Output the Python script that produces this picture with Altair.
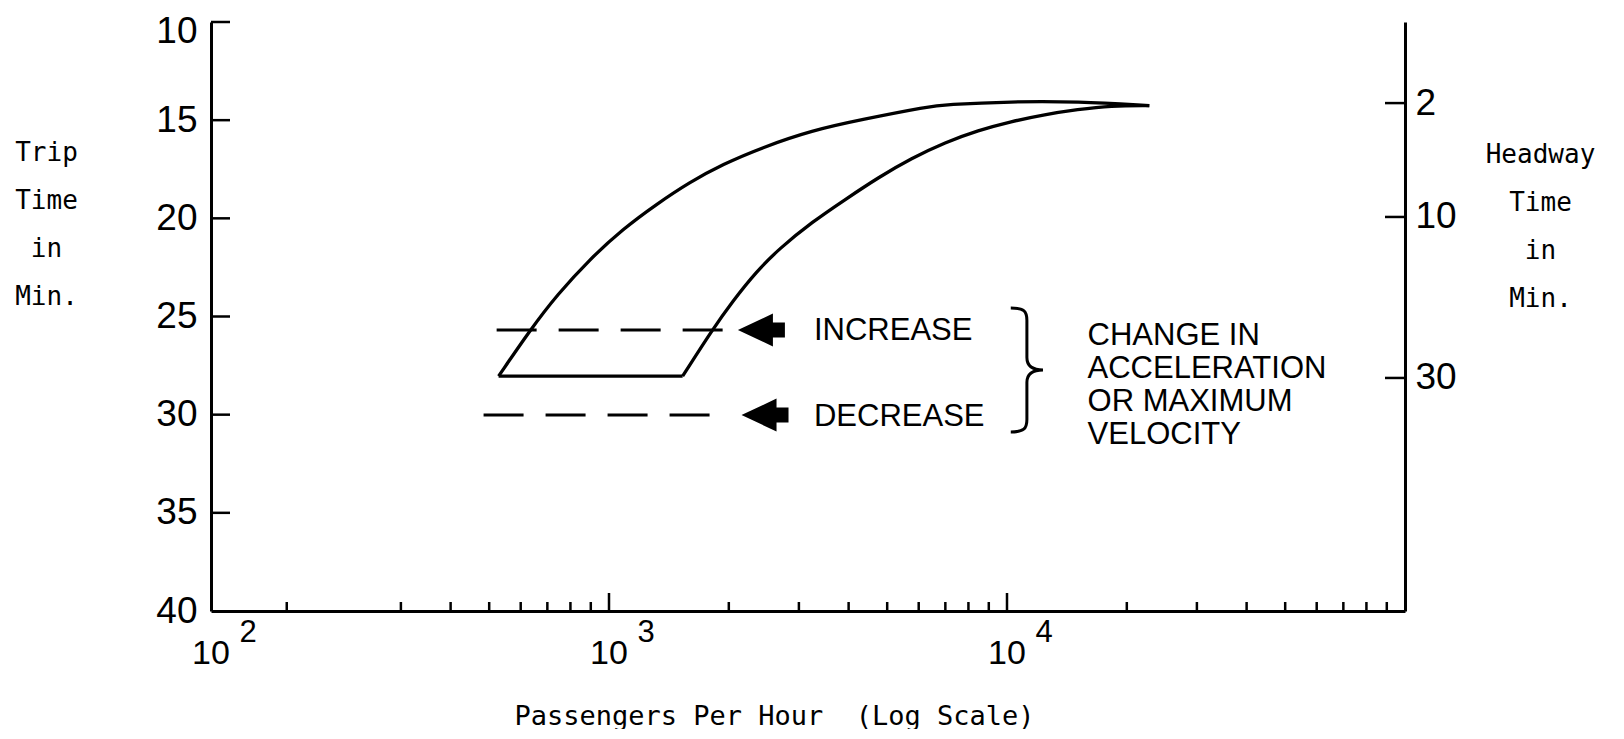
import altair as alt
import pandas as pd

# ---------------- data ----------------
# Upper (left) boundary curve: passengers/hour vs trip time (min)
upper_x = [528, 635, 741, 897, 1084, 1318, 1594, 1928, 2427, 3236, 4315, 6346, 6998, 10233, 15045, 22777]
upper_y = [28.04, 25.66, 23.89, 22.06, 20.54, 19.27, 18.16, 17.25, 16.39, 15.52, 14.97, 14.31, 14.21, 14.05, 14.05, 14.26]
# Lower (right) boundary curve
lower_x = [1531, 1820, 2042, 2344, 2676, 3236, 3936, 4759, 5754, 6998, 8463, 10233, 12445, 15045, 18197, 22777]
lower_y = [28.04, 25.66, 24.24, 22.72, 21.55, 20.19, 19.02, 17.91, 16.94, 16.13, 15.52, 15.07, 14.71, 14.46, 14.26, 14.26]
# Base line joining the two curves
base_x = [528, 1531]
base_y = [28.04, 28.04]

# Dashed lines (increase / decrease)
dash_name = ["increase", "decrease"]
dash_y = [25.69, 30.02]
dash_x0 = [522, 484]
dash_x1 = [1950, 1841]

# Arrows
arrow_x = [2415, 2466]
arrow_y = [25.69, 30.02]

# Brace
brace_x = [11220]
brace_y = [27.72]

# Annotation texts
ann_text = ["INCREASE", "DECREASE", "CHANGE IN", "ACCELERATION", "OR MAXIMUM", "VELOCITY"]
ann_x = [3273, 3273, 15936, 15936, 15936, 15936]
ann_y = [25.73, 30.11, 26.00, 27.66, 29.34, 31.02]

# Axes
trip_labels = [10, 15, 20, 25, 30, 35, 40]
trip_ticks = [10, 15, 20, 25, 30, 35]
headway_labels = ["2", "10", "30"]
headway_pos = [14.13, 19.93, 28.13]   # position on trip-time scale
x_major = [1000, 10000]
x_minor = [155, 300, 400, 500, 600, 700, 800, 900,
           2000, 3000, 4000, 5000, 6000, 7000, 8000, 9000,
           20000, 30000, 40000, 50000, 60000, 70000, 80000, 90000]
x_label_at = [100, 1000, 10000]
x_label_base = ["10", "10", "10"]
x_label_exp = ["2", "3", "4"]

# ---------------- layout / style ----------------
W, H = 1194, 589
X_DOMAIN = [100, 100000]
Y_DOMAIN = [10, 40]
PX_PER_DECADE = W / 3.0
PX_PER_MIN = H / 30.0
LET = "Liberation Sans"
MONO = "DejaVu Sans Mono"

xscale = alt.Scale(type="log", domain=X_DOMAIN, nice=False)
yscale = alt.Scale(domain=Y_DOMAIN, reverse=True, nice=False, zero=False)

curve_df = pd.concat([
    pd.DataFrame({"x": upper_x, "y": upper_y, "s": "upper"}),
    pd.DataFrame({"x": lower_x, "y": lower_y, "s": "lower"}),
    pd.DataFrame({"x": base_x, "y": base_y, "s": "base"}),
])

curves = alt.Chart(curve_df).mark_line(
    interpolate="basis", stroke="black", strokeWidth=3.3
).encode(
    x=alt.X("x:Q", scale=xscale, axis=alt.Axis(
        domain=True, domainColor="black", domainWidth=3, ticks=False, labels=False, grid=False,
        title="Passengers Per Hour\u00a0 (Log Scale)", titleFont=MONO, titleFontSize=27,
        titleFontWeight="normal", titleColor="black", titleX=563, titleY=113,
        titleAlign="center", titleBaseline="alphabetic")),
    y=alt.Y("y:Q", scale=yscale, axis=alt.Axis(
        orient="left", values=trip_labels, domain=True, domainColor="black", domainWidth=3,
        ticks=False, tickSize=0, grid=False, labelFont=LET, labelFontSize=37, labelColor="black",
        labelPadding=14, labelOverlap=False, labelFlush=False,
        labelOffset={"condition": {"test": f"datum.value == {Y_DOMAIN[0]}", "value": 9}, "value": 0},
        title=["Trip", "Time", "in", "Min."], titleFont=MONO, titleFontSize=26,
        titleFontWeight="normal", titleColor="black", titleAngle=0, titleX=-165, titleY=138,
        titleAlign="center", titleBaseline="alphabetic", titleLineHeight=48)),
    detail="s:N",
)

dash_df = pd.DataFrame({"n": dash_name, "y": dash_y, "x0": dash_x0, "x1": dash_x1})
dashes = alt.Chart(dash_df).mark_rule(stroke="black", strokeWidth=3, strokeDash=[40, 22]).encode(
    x=alt.X("x0:Q", scale=xscale, axis=None), x2="x1:Q",
    y=alt.Y("y:Q", scale=yscale, axis=None),
)

ARROW = "M-1,0 L0.49,-0.7 L0.49,-0.32 L1,-0.32 L1,0.32 L0.49,0.32 L0.49,0.7 Z"
arrows = alt.Chart(pd.DataFrame({"x": arrow_x, "y": arrow_y})).mark_point(
    shape=ARROW, filled=True, color="black", opacity=1, size=2209, strokeWidth=0
).encode(
    x=alt.X("x:Q", scale=xscale, axis=None), y=alt.Y("y:Q", scale=yscale, axis=None)
)

BRACE = ("M-0.26,-1 C-0.05,-1 0,-0.95 0,-0.8 L0,-0.2 C0,-0.05 0.1,0 0.26,0 "
         "C0.1,0 0,0.05 0,0.2 L0,0.8 C0,0.95 -0.05,1 -0.26,1")
brace = alt.Chart(pd.DataFrame({"x": brace_x, "y": brace_y})).mark_point(
    shape=BRACE, filled=False, stroke="black", strokeWidth=3, opacity=1, size=124 * 124
).encode(
    x=alt.X("x:Q", scale=xscale, axis=None), y=alt.Y("y:Q", scale=yscale, axis=None)
)

ann = alt.Chart(pd.DataFrame({"t": ann_text, "x": ann_x, "y": ann_y})).mark_text(
    font=LET, fontSize=31, align="left", baseline="middle", color="black"
).encode(
    x=alt.X("x:Q", scale=xscale, axis=None), y=alt.Y("y:Q", scale=yscale, axis=None), text="t:N"
)

# Inward tick marks
maj_len = 18 / PX_PER_MIN
min_len = 9 / PX_PER_MIN
xmaj = alt.Chart(pd.DataFrame({"v": x_major})).mark_rule(stroke="black", strokeWidth=2.5).encode(
    x=alt.X("v:Q", scale=xscale, axis=None),
    y=alt.Y(datum=Y_DOMAIN[1], type="quantitative", scale=yscale, axis=None),
    y2=alt.Y2(datum=Y_DOMAIN[1] - maj_len),
)
xmin = alt.Chart(pd.DataFrame({"v": x_minor})).mark_rule(stroke="black", strokeWidth=2.5).encode(
    x=alt.X("v:Q", scale=xscale, axis=None),
    y=alt.Y(datum=Y_DOMAIN[1], type="quantitative", scale=yscale, axis=None),
    y2=alt.Y2(datum=Y_DOMAIN[1] - min_len),
)
lticks = alt.Chart(pd.DataFrame({"v": trip_ticks})).mark_rule(stroke="black", strokeWidth=2.5).encode(
    y=alt.Y("v:Q", scale=yscale, axis=None),
    x=alt.X(datum=X_DOMAIN[0], type="quantitative", scale=xscale, axis=None),
    x2=alt.X2(datum=X_DOMAIN[0] * 10 ** (19 / PX_PER_DECADE)),
)

label_expr = " : ".join(
    f"abs(datum.value - {p}) < 0.01 ? '{l}'" for p, l in zip(headway_pos, headway_labels)
) + " : ''"
rticks = alt.Chart(pd.DataFrame({"v": headway_pos})).mark_rule(stroke="black", strokeWidth=2.5).encode(
    y=alt.Y("v:Q", scale=yscale, axis=alt.Axis(
        orient="right", values=headway_pos, labelExpr=label_expr, domain=True,
        domainColor="black", domainWidth=3, ticks=False, tickSize=0, grid=False,
        labelFont=LET, labelFontSize=37, labelColor="black", labelPadding=10,
        labelOverlap=False, labelFlush=False,
        title=["Headway", "Time", "in", "Min."], titleFont=MONO, titleFontSize=26,
        titleFontWeight="normal", titleColor="black", titleAngle=0, titleX=135, titleY=140,
        titleAlign="center", titleBaseline="alphabetic", titleLineHeight=48)),
    x=alt.X(datum=X_DOMAIN[1], type="quantitative", scale=xscale, axis=None),
    x2=alt.X2(datum=X_DOMAIN[1] / 10 ** (20 / PX_PER_DECADE)),
)

xl_df = pd.DataFrame({"v": x_label_at, "b": x_label_base, "e": x_label_exp})
xlab_base = alt.Chart(xl_df).mark_text(
    font=LET, fontSize=34, align="center", baseline="middle", dy=43, color="black"
).encode(
    x=alt.X("v:Q", scale=xscale, axis=None),
    y=alt.Y(datum=Y_DOMAIN[1], type="quantitative", scale=yscale, axis=None),
    text="b:N",
)
xlab_exp = alt.Chart(xl_df).mark_text(
    font=LET, fontSize=31, align="center", baseline="middle", dx=37, dy=22, color="black"
).encode(
    x=alt.X("v:Q", scale=xscale, axis=None),
    y=alt.Y(datum=Y_DOMAIN[1], type="quantitative", scale=yscale, axis=None),
    text="e:N",
)

chart = alt.layer(
    curves, dashes, arrows, brace, ann, xmaj, xmin, lticks, rticks, xlab_base, xlab_exp
).resolve_axis(
    x="independent", y="independent"
).properties(
    width=W, height=H,
    padding={"left": 203, "top": 14, "right": 205, "bottom": 118},
    autosize=alt.AutoSizeParams(type="none"),
    background="white",
).configure_view(stroke=None)

chart.save("out.html", embed_options={"renderer": "svg", "actions": False})
